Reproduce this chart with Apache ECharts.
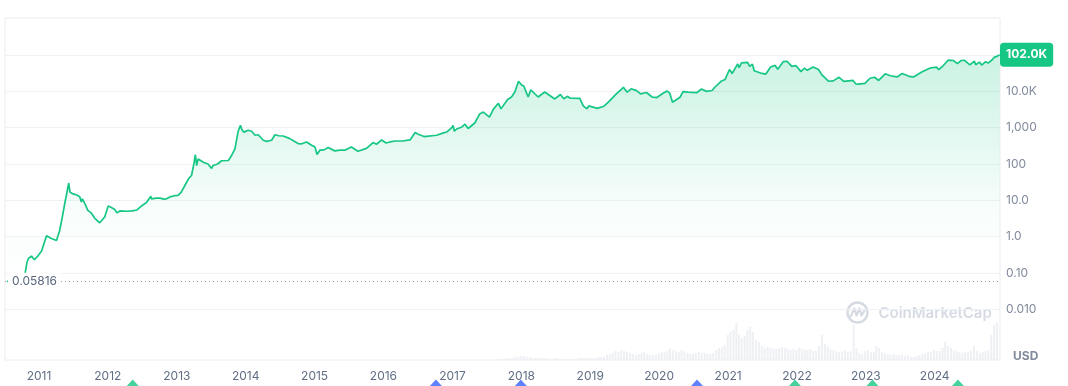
<!DOCTYPE html>
<html><head><meta charset="utf-8">
<script src="https://cdn.jsdelivr.net/npm/echarts@6/dist/echarts.min.js"></script>
<style>html,body{margin:0;padding:0;background:#fff}#c{width:1068px;height:386px}</style>
</head><body><div id="c"></div>
<script>
// ---------- DATA ----------
const xMin = '2010-07-05';
const xMax = '2024-12-12';

const priceDates = [
'2010-07-15','2010-10-08','2010-10-20','2010-10-30','2010-11-06','2010-11-22','2010-12-08','2010-12-28',
'2011-01-15','2011-02-10','2011-03-05','2011-04-04','2011-04-21','2011-05-05','2011-05-18','2011-05-28','2011-06-08','2011-06-14','2011-07-01','2011-07-20','2011-08-05','2011-08-14','2011-08-19','2011-09-02','2011-09-17','2011-10-05','2011-10-24','2011-11-19','2011-12-05','2011-12-16',
'2012-01-03','2012-01-15','2012-02-07','2012-02-18','2012-03-05','2012-04-10','2012-05-10','2012-06-02','2012-06-20','2012-07-05','2012-07-25','2012-08-16','2012-08-19','2012-08-27','2012-09-15','2012-10-03','2012-10-25','2012-11-07','2012-11-25','2012-12-20',
'2013-01-08','2013-01-25','2013-02-13','2013-03-05','2013-03-20','2013-04-01','2013-04-09','2013-04-16','2013-04-24','2013-05-21','2013-06-15','2013-07-04','2013-07-12','2013-08-05','2013-08-26','2013-10-01','2013-10-09','2013-10-18','2013-11-05','2013-11-13','2013-11-22','2013-12-04','2013-12-12','2013-12-22',
'2014-01-14','2014-02-01','2014-02-20','2014-02-28','2014-03-08','2014-04-04','2014-04-21','2014-05-18','2014-06-05','2014-06-25','2014-07-19','2014-08-23','2014-09-20','2014-10-06','2014-10-25','2014-11-20','2014-12-16',
'2015-01-03','2015-01-14','2015-01-29','2015-02-20','2015-03-14','2015-04-18','2015-05-15','2015-06-10','2015-07-15','2015-08-19','2015-08-28','2015-10-03','2015-11-07','2015-11-25','2015-12-22',
'2016-01-15','2016-02-04','2016-03-02','2016-04-10','2016-05-21','2016-06-17','2016-07-03','2016-08-03','2016-08-16','2016-10-09','2016-11-10','2016-12-01','2016-12-28',
'2017-01-04','2017-01-11','2017-01-23','2017-02-20','2017-03-08','2017-03-25','2017-04-30','2017-05-25','2017-06-13','2017-07-16','2017-08-05','2017-09-01','2017-09-15','2017-10-20','2017-11-10','2017-11-28','2017-12-17',
'2018-01-02','2018-01-06','2018-01-14','2018-02-06','2018-02-20','2018-03-31','2018-05-05','2018-06-27','2018-07-27','2018-08-14','2018-09-04','2018-09-15','2018-11-07','2018-11-25','2018-12-15','2018-12-24',
'2019-02-07','2019-03-15','2019-04-10','2019-05-14','2019-06-26','2019-07-16','2019-08-06','2019-09-04','2019-09-25','2019-10-26','2019-11-25','2019-12-18',
'2020-01-20','2020-02-12','2020-02-27','2020-03-12','2020-04-21','2020-05-07','2020-06-01','2020-07-18','2020-08-13','2020-09-08','2020-10-08','2020-10-21','2020-11-24','2020-12-16',
'2021-01-08','2021-01-22','2021-02-21','2021-02-28','2021-03-13','2021-04-14','2021-04-25','2021-05-10','2021-05-19','2021-06-22','2021-07-20','2021-08-14','2021-09-07','2021-09-21','2021-10-20','2021-11-09','2021-12-04','2021-12-27',
'2022-01-22','2022-02-10','2022-02-24','2022-03-28','2022-04-25','2022-05-12','2022-06-18','2022-07-12','2022-08-12','2022-09-06','2022-10-25','2022-11-09','2022-11-21','2022-12-27',
'2023-01-23','2023-02-16','2023-03-10','2023-04-13','2023-05-11','2023-06-15','2023-07-13','2023-08-17','2023-09-11','2023-10-24','2023-12-08',
'2024-01-11','2024-01-22','2024-02-13','2024-03-13','2024-04-08','2024-05-01','2024-05-20','2024-06-07','2024-07-05','2024-07-29','2024-08-05','2024-08-25','2024-09-06','2024-09-27','2024-10-10','2024-10-29','2024-11-05','2024-11-13','2024-11-22','2024-11-26','2024-12-05','2024-12-10'
];
const priceValues = [
0.05816,0.07,0.1,0.2,0.25,0.29,0.23,0.3,
0.4,1.05,0.9,0.78,1.5,3.5,8.3,9,30,17,15,14,12.5,9,11,8,5.3,4.5,3.2,2.4,3,3.5,
7,6.5,5.6,4.5,5.1,5,5.1,5.4,6.5,7.4,8.8,13,11,10.5,11.5,11.5,10.8,11,12.4,13.4,
13.7,17,26,40,49,100,180,90,138,112,100,76,91,100,123,125,137,172,260,450,800,1160,880,755,
850,800,620,550,640,450,420,450,640,600,590,500,410,365,360,405,330,
295,183,240,245,285,230,240,240,295,225,245,270,390,350,460,
380,405,430,430,460,735,660,570,580,620,710,760,1000,
1150,800,920,1050,1250,950,1370,2400,2700,1950,3200,4700,3300,6000,7000,9800,19000,
15000,17000,14000,7000,11000,7000,9600,6200,8200,6300,7300,6500,6400,4000,3300,4000,
3400,3900,5200,8000,12900,9500,11800,10500,8500,9300,7000,6700,
8700,10300,8800,5000,6900,9900,9500,9200,11600,10000,10600,12800,19000,21300,
40000,31000,57000,45000,61000,63000,49000,56000,37000,32000,30000,47000,52000,41000,66000,67500,49000,51000,
35000,44000,38000,47000,40000,29000,19000,19500,24400,18800,20000,16000,15800,16700,
23000,24500,20000,30500,27000,25000,31000,26000,25000,34000,44000,
46500,39500,50000,73000,71000,58000,71000,71500,54000,68000,54000,64000,53000,66000,60000,72000,68000,88000,99000,92000,103000,102000
];

// semi-monthly volume (1st & 16th of each month), from 2017-09
const volumeStart = [2017, 9];
const volumeValues = [
1,1,1,2,2,2,3,3,
4,4,3,3,2,2,2,2,2,2,1,1,2,2,1,1,1,1,1,1,2,2,2,2,
2,2,2,3,3,3,5,6,7,9,8,10,9,8,7,6,5,6,7,8,6,5,5,5,
6,8,8,9,12,10,9,8,10,9,7,6,6,7,8,7,7,6,6,7,10,12,13,15,
25,28,30,37,25,22,24,30,33,28,20,18,14,12,13,12,12,11,12,13,12,11,10,11,
10,12,11,10,10,11,9,9,14,25,16,14,11,10,9,8,9,10,8,9,35,12,7,6,
9,10,8,8,14,12,8,7,6,5,6,5,5,5,4,5,3,3,4,5,6,7,8,8,
10,9,9,12,18,14,12,10,9,8,7,8,8,9,14,9,7,8,9,10,25,35,38
];

const yTickValues = [0.01, 0.1, 1, 10, 100, 1000, 10000, 100000];
const yTickLabels = ['0.010', '0.10', '1.0', '10.0', '100', '1,000', '10.0K', '100.0K'];
const yMin = 0.0004, yMax = 1.05e6;

const eventDates = ['2012-05-12','2016-10-05','2017-12-29','2020-07-20','2021-12-21','2023-02-05','2024-05-03'];
const eventKinds = ['g','b','b','b','g','g','g'];

const firstLabel = '0.05816';
const lastLabel = '102.0K';

// ---------- BUILD ----------
const GREEN = '#16C784', BLUE = '#3861FB';
const lg = v => Math.log10(v);
const priceData = priceDates.map((d, i) => [d, lg(priceValues[i])]);
const volumeData = volumeValues.map((v, i) => {
  const m = volumeStart[1] - 1 + Math.floor(i / 2);
  const y = volumeStart[0] + Math.floor(m / 12);
  const mm = String(m % 12 + 1).padStart(2, '0');
  return [`${y}-${mm}-${i % 2 ? '16' : '01'}`, v];
});
const eventData = eventDates.map((d, i) => ({value: [d, 0], itemStyle: {color: eventKinds[i] === 'g' ? GREEN : BLUE}}));
const tickExps = yTickValues.map(lg);

const chart = echarts.init(document.getElementById('c'), null, {renderer: 'canvas'});
const FONT = 'Inter, "Noto Sans", sans-serif';
chart.setOption({
  animation: false,
  textStyle: {fontFamily: FONT},
  grid: [
    {left: 5, right: 68, top: 18, bottom: 26, show: true, borderColor: '#e9ecf0', borderWidth: 1},
    {left: 5, right: 68, top: 300, bottom: 26},
    {left: 5, right: 68, top: 376, height: 12}
  ],
  xAxis: [
    {type: 'time', gridIndex: 0, min: xMin, max: xMax,
     minInterval: 365 * 86400000, maxInterval: 366 * 86400000,
     axisLine: {show: false}, axisTick: {show: false}, splitLine: {show: false},
     axisLabel: {formatter: '{yyyy}', color: '#616E85', fontSize: 12, margin: 10, fontFamily: FONT}},
    {type: 'time', gridIndex: 1, min: xMin, max: xMax, show: false},
    {type: 'time', gridIndex: 2, min: xMin, max: xMax, show: false}
  ],
  yAxis: [
    {type: 'value', gridIndex: 0, position: 'right', min: lg(yMin), max: lg(yMax),
     axisLine: {show: false}, axisTick: {show: false, customValues: tickExps},
     splitLine: {show: true, lineStyle: {color: '#eff2f5', width: 1}},
     axisLabel: {customValues: tickExps, color: '#808A9D', fontSize: 12, margin: 6, fontFamily: FONT,
       formatter: v => { const i = tickExps.findIndex(t => Math.abs(t - v) < 1e-6); return i >= 0 ? yTickLabels[i] : ''; }}},
    {type: 'value', gridIndex: 1, min: 0, max: 60, show: false},
    {type: 'value', gridIndex: 2, min: 0, max: 1, show: false}
  ],
  graphic: [
    {type: 'group', left: 845, top: 300, silent: true, children: [
      {type: 'circle', shape: {cx: 11, cy: 11, r: 10}, style: {fill: 'none', stroke: '#d6dbe3', lineWidth: 2.4}},
      {type: 'polyline', shape: {points: [[4, 15], [8, 7], [10, 14], [13, 7], [15, 14], [18, 9]]}, style: {fill: 'none', stroke: '#d6dbe3', lineWidth: 2.2, lineJoin: 'round', lineCap: 'round'}},
      {type: 'text', x: 32, y: 12, style: {text: 'CoinMarketCap', font: '600 15px Inter, sans-serif', fill: '#d6dbe3', verticalAlign: 'middle'}}
    ]},
    {type: 'text', left: 1013, top: 350, silent: true, style: {text: 'USD', font: 'bold 12px Inter, sans-serif', fill: '#808A9D'}}
  ],
  series: [
    {type: 'bar', xAxisIndex: 1, yAxisIndex: 1, data: volumeData, barWidth: 2, silent: true,
     itemStyle: {color: '#eef0f4'}, z: 1},
    {type: 'line', xAxisIndex: 0, yAxisIndex: 0, data: priceData, symbol: 'none', showSymbol: false,
     lineStyle: {color: GREEN, width: 1.7}, itemStyle: {color: GREEN}, z: 3,
     areaStyle: {color: new echarts.graphic.LinearGradient(0, 0, 0, 1, [
       {offset: 0, color: 'rgba(22,199,132,0.32)'},
       {offset: 0.7, color: 'rgba(22,199,132,0.04)'},
       {offset: 1, color: 'rgba(22,199,132,0)'}])},
     markLine: {silent: true, symbol: 'none', animation: false, z: 10, data: [
       {yAxis: lg(priceValues[0]), lineStyle: {type: [1, 3], color: '#9aa1ae', width: 1},
        label: {show: true, position: 'insideStart', formatter: firstLabel, color: '#58667E', fontSize: 12,
          backgroundColor: '#ffffff', padding: [3, 4], distance: 3, fontFamily: FONT}},
       {yAxis: lg(priceValues[priceValues.length - 1]), lineStyle: {color: 'rgba(0,0,0,0)', width: 1},
        label: {show: true, position: 'end', formatter: lastLabel, color: '#ffffff', fontSize: 12, fontWeight: 'bold',
          backgroundColor: GREEN, padding: [6, 6, 6, 6], borderRadius: 4, distance: 0, fontFamily: FONT}}
     ]}},
    {type: 'scatter', xAxisIndex: 2, yAxisIndex: 2, data: eventData, symbol: 'diamond', symbolSize: [12, 13],
     clip: false, silent: true, z: 5}
  ]
});
</script></body></html>
